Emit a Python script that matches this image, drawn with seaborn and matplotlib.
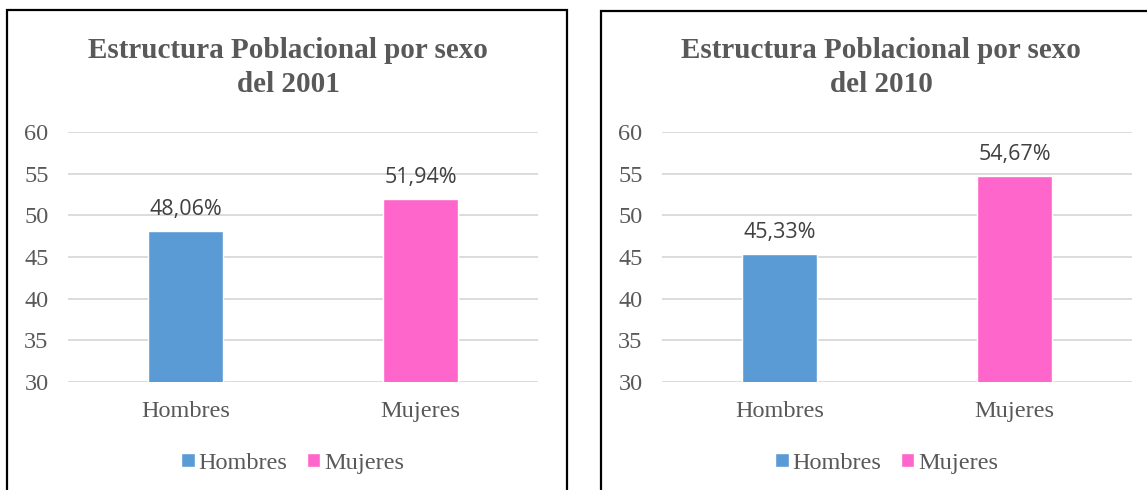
import matplotlib
matplotlib.use("Agg")
import matplotlib.pyplot as plt
from matplotlib.patches import Rectangle
import seaborn as sns
import pandas as pd

categorias = ["Hombres", "Mujeres"]
valores_2001 = [48.06, 51.94]
valores_2010 = [45.33, 54.67]
etiquetas_2001 = ["48,06%", "51,94%"]
etiquetas_2010 = ["45,33%", "54,67%"]
titulos = ["Estructura Poblacional por sexo\ndel 2001", "Estructura Poblacional por sexo\ndel 2010"]
colores = {"Hombres": "#5B9BD5", "Mujeres": "#FF66CC"}

sns.set_style("white")
plt.rcParams["font.family"] = ["Liberation Serif", "DejaVu Serif"]

W, H = 1147, 490
fig = plt.figure(figsize=(W / 100, H / 100), dpi=100)
gris = "#595959"


def px(x0, y0, w, h):
    return [x0 / W, (H - y0 - h) / H, w / W, h / H]


# (inicio eje, marco izq, marco der, marco arriba, centro titulo, valores, etiquetas, titulo)
paneles = [
    (68, 7, 567, 10, 288, valores_2001, etiquetas_2001, titulos[0]),
    (662, 601, 1170, 11, 881, valores_2010, etiquetas_2010, titulos[1]),
]

for ax_x, fx0, fx1, fy0, tx, valores, etiquetas, titulo in paneles:
    # marco negro del grafico
    fig.add_artist(Rectangle((fx0 / W, -0.1), (fx1 - fx0) / W, (H - fy0) / H + 0.1,
                             transform=fig.transFigure, fill=False,
                             edgecolor="black", linewidth=1.6, clip_on=False))

    ax = fig.add_axes(px(ax_x, 132, 470, 250))
    df = pd.DataFrame({"sexo": categorias, "valor": valores})
    sns.barplot(data=df, x="sexo", y="valor", hue="sexo", palette=colores,
                width=0.315, ax=ax, legend=False, saturation=1)
    ax.set_ylim(30, 60)
    ax.set_yticks(range(30, 61, 5))
    ax.yaxis.grid(True, color="#D9D9D9", linewidth=1.3)
    ax.set_axisbelow(True)
    for s in ax.spines.values():
        s.set_visible(False)
    ax.set_xlabel("")
    ax.set_ylabel("")
    ax.tick_params(axis="both", length=0, labelsize=17.5, labelcolor=gris)
    ax.tick_params(axis="x", pad=14)
    ax.tick_params(axis="y", pad=14)

    for i, (v, t) in enumerate(zip(valores, etiquetas)):
        ax.annotate(t, (i, v), xytext=(0, 8), textcoords="offset points",
                    ha="center", va="bottom", fontsize=15.5, color="#404040",
                    family=["Open Sans", "DejaVu Sans"])

    fig.text(tx / W, (H - 67.5) / H, titulo, ha="center", va="center",
             fontsize=21, fontweight="bold", color=gris, linespacing=1.3)

    handles = [Rectangle((0, 0), 1, 1, facecolor=colores[c]) for c in categorias]
    ax.legend(handles, categorias, loc="center", bbox_to_anchor=(0.478, -0.324),
              ncol=2, frameon=False, fontsize=17.5, labelcolor=gris,
              handlelength=0.55, handleheight=0.55, handletextpad=0.15,
              columnspacing=0.8)

fig.savefig("out.png", dpi=100, facecolor="white")
